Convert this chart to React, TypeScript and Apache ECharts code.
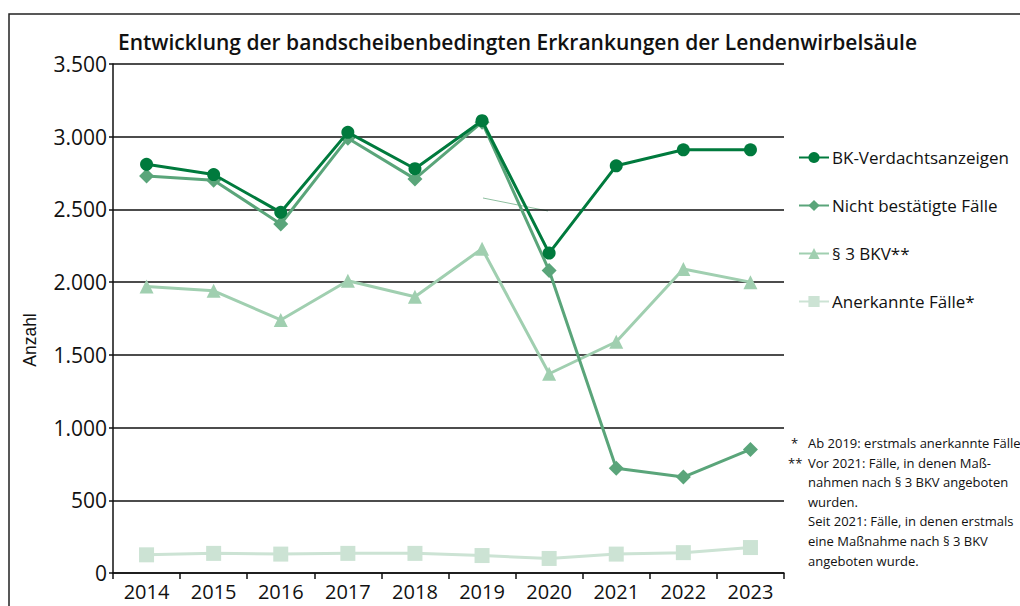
import React, { useEffect, useRef } from "react";
import * as echarts from "echarts";

const years = ["2014", "2015", "2016", "2017", "2018", "2019", "2020", "2021", "2022", "2023"];
const verdacht = [2810, 2740, 2480, 3030, 2780, 3110, 2200, 2800, 2910, 2910];
const nichtBestaetigt = [2730, 2700, 2400, 2990, 2710, 3100, 2080, 720, 660, 850];
const bkv3 = [1970, 1940, 1740, 2010, 1900, 2230, 1370, 1590, 2090, 2000];
const anerkannt = [125, 135, 130, 135, 135, 120, 100, 130, 140, 175];

const seriesNames = ["BK-Verdachtsanzeigen", "Nicht bestätigte Fälle", "§ 3 BKV**", "Anerkannte Fälle*"];
const title = "Entwicklung der bandscheibenbedingten Erkrankungen der Lendenwirbelsäule";
const footnotes = [
  ["*", "Ab 2019: erstmals anerkannte Fälle"],
  ["**", "Vor 2021: Fälle, in denen Maß-"],
  ["", "nahmen nach § 3 BKV angeboten"],
  ["", "wurden."],
  ["", "Seit 2021: Fälle, in denen erstmals"],
  ["", "eine Maßnahme nach § 3 BKV"],
  ["", "angeboten wurde."],
];

const FONT = "'Open Sans', 'Noto Sans', sans-serif";

export default function App() {
  const ref = useRef<HTMLDivElement>(null);
  useEffect(() => {
    document.body.style.margin = "0";
    const chart = echarts.init(ref.current!, null, { renderer: "svg" });
    const colors = ["#007a3d", "#5aa57a", "#a0cfb0", "#cce3d4"];
    const symbols = ["circle", "diamond", "triangle", "rect"];
    const sizes = [13, 15, 14, 15];
    const widths = [3, 3, 3, 3];
    const datas = [verdacht, nichtBestaetigt, bkv3, anerkannt];
    const graphics: any[] = [
      { type: "rect", shape: { x: 9, y: 14, width: 1030, height: 620 }, style: { fill: "none", stroke: "#222", lineWidth: 1.5 }, silent: true },
      { type: "text", x: 118, y: 42, style: { text: title, font: `600 21px ${FONT}`, fill: "#111", textVerticalAlign: "middle" } },
      { type: "text", x: 30, y: 340, rotation: Math.PI / 2, style: { text: "Anzahl", font: "17.5px 'Liberation Sans', Arial, sans-serif", fill: "#111", textAlign: "center", textVerticalAlign: "middle" } },
      { type: "line", shape: { x1: 483, y1: 198, x2: 548, y2: 211 }, style: { stroke: "#8fbfa0", lineWidth: 1 } },
    ];
    footnotes.forEach((f, i) => {
      const y = 443 + i * 19.6;
      if (f[0]) graphics.push({ type: "text", x: f[0] === "*" ? 791 : 788, y, style: { text: f[0], font: `13px ${FONT}`, fill: "#111", textVerticalAlign: "middle" } });
      graphics.push({ type: "text", x: 808, y, style: { text: f[1], font: `13px ${FONT}`, fill: "#111", textVerticalAlign: "middle" } });
    });
    chart.setOption({
      animation: false,
      grid: { left: 113, right: 236, top: 64, bottom: 33, containLabel: false },
      legend: {
        orient: "vertical",
        left: 793,
        top: 144,
        itemGap: 31,
        itemWidth: 30,
        itemHeight: 14,
        textStyle: { fontSize: 17, fontFamily: FONT, color: "#111", padding: [0, 0, 0, -2] },
        data: seriesNames,
      },
      xAxis: {
        type: "category",
        data: years,
        boundaryGap: true,
        axisLine: { lineStyle: { color: "#111", width: 1.5 } },
        axisTick: { show: true, length: 6, lineStyle: { color: "#111", width: 1.5 } },
        axisLabel: { fontSize: 20, fontFamily: FONT, color: "#111", margin: 8 },
        splitLine: { show: false },
      },
      yAxis: {
        type: "value",
        min: 0,
        max: 3500,
        interval: 500,
        axisLine: { show: true, lineStyle: { color: "#111", width: 1.5 } },
        axisTick: { show: true, length: 4, lineStyle: { color: "#111", width: 1.5 } },
        axisLabel: {
          fontSize: 21,
          fontFamily: FONT,
          color: "#111",
          margin: 6,
          formatter: (v: number) => v.toLocaleString("de-DE"),
        },
        splitLine: { show: true, lineStyle: { color: "#111", width: 1.5 } },
      },
      series: seriesNames.map((name, i) => ({
        name,
        type: "line",
        data: datas[i],
        symbol: symbols[i],
        symbolSize: sizes[i],
        showSymbol: true,
        z: 10 - i,
        lineStyle: { color: colors[i], width: widths[i] },
        itemStyle: { color: colors[i] },
      })),
      graphic: graphics,
    });
    return () => chart.dispose();
  }, []);
  return <div ref={ref} style={{ width: 1020, height: 606 }} />;
}
